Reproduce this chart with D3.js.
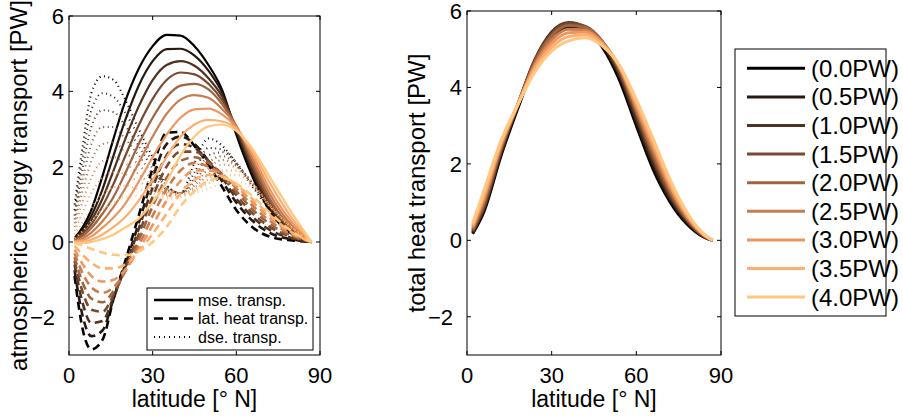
<!DOCTYPE html>
<html>
<head>
<meta charset="utf-8">
<script src="https://cdn.jsdelivr.net/npm/d3@7"></script>
<style>
  body { margin: 0; background: #fff; }
  text { font-family: "Liberation Sans", Arial, Helvetica, sans-serif; fill: #000; }
</style>
</head>
<body>
<script>
// latitude grids (deg N)
var latLeft  = [2, 5, 8, 12, 16, 20, 25, 30, 35, 40, 45, 50, 55, 60, 66, 72, 80, 87];
var latRight = [2, 6, 12, 18, 24, 30, 36, 42, 48, 54, 60, 66, 72, 78, 84, 87];

var forcingLabels = ["(0.0PW)", "(0.5PW)", "(1.0PW)", "(1.5PW)", "(2.0PW)",
                     "(2.5PW)", "(3.0PW)", "(3.5PW)", "(4.0PW)"];

// moist static energy transport (solid), one row per forcing
var mseTransp = [
  [0.1, 0.4, 0.85, 1.75, 2.75, 3.7, 4.6, 5.2, 5.5, 5.48, 5.2, 4.7, 4.02, 2.85, 1.7, 0.82, 0.2, 0],
  [0.08, 0.33, 0.7, 1.4, 2.3, 3.2, 4.15, 4.8, 5.12, 5.13, 4.95, 4.55, 3.95, 2.95, 1.8, 0.9, 0.24, 0],
  [0.07, 0.28, 0.58, 1.15, 1.9, 2.7, 3.6, 4.3, 4.7, 4.8, 4.68, 4.35, 3.85, 3.0, 1.88, 0.98, 0.27, 0],
  [0.06, 0.22, 0.47, 0.95, 1.55, 2.25, 3.1, 3.8, 4.3, 4.5, 4.45, 4.2, 3.75, 3.05, 1.98, 1.06, 0.31, 0],
  [0.05, 0.16, 0.37, 0.75, 1.2, 1.8, 2.6, 3.3, 3.85, 4.15, 4.2, 4.05, 3.65, 3.08, 2.08, 1.15, 0.36, 0],
  [0.03, 0.1, 0.25, 0.55, 0.93, 1.4, 2.1, 2.8, 3.4, 3.78, 3.9, 3.83, 3.52, 3.08, 2.18, 1.27, 0.43, 0],
  [0.02, 0.05, 0.15, 0.38, 0.65, 1.0, 1.6, 2.25, 2.85, 3.3, 3.52, 3.54, 3.38, 3.04, 2.28, 1.4, 0.52, 0],
  [0.0, 0.01, 0.06, 0.2, 0.4, 0.65, 1.1, 1.65, 2.25, 2.8, 3.12, 3.24, 3.2, 3.0, 2.38, 1.57, 0.63, 0],
  [-0.03, -0.03, 0.0, 0.08, 0.2, 0.38, 0.62, 1.05, 1.6, 2.3, 2.8, 3.07, 3.12, 2.95, 2.45, 1.72, 0.76, 0]
];

// latent heat transport (dashed)
var latTransp = [
  [-0.9, -2.35, -2.85, -2.6, -1.5, -0.55, 0.7, 1.95, 2.9, 2.92, 2.55, 2.05, 1.45, 0.85, 0.38, 0.14, 0.04, 0],
  [-0.75, -2.0, -2.5, -2.35, -1.5, -0.65, 0.5, 1.7, 2.6, 2.8, 2.6, 2.15, 1.6, 1.05, 0.55, 0.24, 0.07, 0],
  [-0.6, -1.65, -2.15, -2.1, -1.45, -0.7, 0.35, 1.45, 2.3, 2.6, 2.5, 2.15, 1.7, 1.15, 0.65, 0.32, 0.1, 0],
  [-0.5, -1.35, -1.8, -1.85, -1.4, -0.75, 0.2, 1.2, 2.0, 2.4, 2.4, 2.15, 1.75, 1.25, 0.75, 0.4, 0.13, 0],
  [-0.4, -1.1, -1.5, -1.6, -1.3, -0.8, 0.05, 0.95, 1.7, 2.15, 2.25, 2.1, 1.8, 1.35, 0.85, 0.48, 0.16, 0],
  [-0.3, -0.85, -1.2, -1.35, -1.2, -0.8, -0.1, 0.7, 1.4, 1.9, 2.1, 2.0, 1.8, 1.42, 0.95, 0.56, 0.19, 0],
  [-0.2, -0.6, -0.9, -1.05, -1.0, -0.75, -0.2, 0.45, 1.1, 1.62, 1.9, 1.9, 1.77, 1.48, 1.05, 0.64, 0.22, 0],
  [-0.1, -0.35, -0.55, -0.7, -0.7, -0.6, -0.25, 0.22, 0.75, 1.3, 1.65, 1.78, 1.74, 1.52, 1.13, 0.72, 0.25, 0],
  [-0.02, -0.1, -0.18, -0.28, -0.34, -0.35, -0.25, 0.0, 0.4, 0.95, 1.35, 1.62, 1.7, 1.55, 1.2, 0.78, 0.28, 0]
];

// dry static energy transport (dotted)
var dseTransp = [
  [1.0, 2.6, 3.95, 4.4, 4.3, 3.8, 3.0, 2.25, 1.5, 1.3, 2.1, 2.75, 2.55, 2.1, 1.45, 0.85, 0.25, 0],
  [0.85, 2.3, 3.5, 3.95, 3.85, 3.45, 2.8, 2.1, 1.5, 1.3, 1.85, 2.5, 2.45, 2.1, 1.5, 0.9, 0.28, 0],
  [0.7, 2.0, 3.05, 3.5, 3.45, 3.1, 2.55, 1.95, 1.45, 1.3, 1.7, 2.3, 2.38, 2.08, 1.52, 0.93, 0.3, 0],
  [0.6, 1.7, 2.6, 3.05, 3.05, 2.75, 2.3, 1.8, 1.4, 1.3, 1.6, 2.1, 2.28, 2.05, 1.54, 0.95, 0.32, 0],
  [0.5, 1.4, 2.15, 2.6, 2.65, 2.4, 2.05, 1.65, 1.35, 1.3, 1.5, 1.95, 2.18, 2.02, 1.55, 0.97, 0.34, 0],
  [0.4, 1.1, 1.7, 2.15, 2.25, 2.1, 1.8, 1.5, 1.3, 1.28, 1.45, 1.8, 2.05, 1.98, 1.55, 0.98, 0.36, 0],
  [0.3, 0.8, 1.3, 1.7, 1.85, 1.8, 1.6, 1.4, 1.25, 1.25, 1.4, 1.67, 1.9, 1.9, 1.53, 0.98, 0.37, 0],
  [0.2, 0.55, 0.9, 1.25, 1.45, 1.5, 1.4, 1.3, 1.2, 1.22, 1.35, 1.55, 1.72, 1.78, 1.5, 0.97, 0.38, 0],
  [0.1, 0.3, 0.55, 0.85, 1.05, 1.2, 1.22, 1.2, 1.15, 1.2, 1.3, 1.42, 1.55, 1.6, 1.42, 0.94, 0.38, 0]
];

// total heat transport (right panel)
var totalTransp = [
  [0.17, 0.75, 2.2, 3.45, 4.6, 5.3, 5.56, 5.5, 5.05, 4.2, 3.0, 1.85, 1.0, 0.42, 0.08, 0],
  [0.2, 0.8, 2.25, 3.5, 4.65, 5.35, 5.63, 5.55, 5.12, 4.3, 3.1, 1.95, 1.07, 0.46, 0.09, 0],
  [0.22, 0.85, 2.3, 3.55, 4.72, 5.45, 5.7, 5.58, 5.15, 4.35, 3.2, 2.05, 1.13, 0.5, 0.1, 0],
  [0.25, 0.9, 2.35, 3.55, 4.7, 5.4, 5.68, 5.6, 5.2, 4.42, 3.3, 2.15, 1.2, 0.53, 0.11, 0],
  [0.28, 0.97, 2.4, 3.55, 4.65, 5.35, 5.62, 5.57, 5.2, 4.48, 3.38, 2.25, 1.27, 0.56, 0.12, 0],
  [0.32, 1.05, 2.45, 3.55, 4.6, 5.25, 5.52, 5.5, 5.18, 4.52, 3.45, 2.35, 1.35, 0.6, 0.13, 0],
  [0.36, 1.12, 2.5, 3.55, 4.55, 5.15, 5.43, 5.45, 5.15, 4.55, 3.52, 2.45, 1.42, 0.64, 0.14, 0],
  [0.4, 1.2, 2.55, 3.55, 4.48, 5.05, 5.33, 5.38, 5.12, 4.57, 3.6, 2.55, 1.5, 0.68, 0.15, 0],
  [0.45, 1.3, 2.6, 3.55, 4.4, 4.95, 5.22, 5.3, 5.08, 4.58, 3.68, 2.65, 1.58, 0.72, 0.16, 0]
];

var xTicks = [0, 30, 60, 90];
var yTicks = [-2, 0, 2, 4, 6];

// matlab "copper" colormap
function copper(t){
    return d3.rgb(255 * Math.min(1, 1.25 * t), 255 * 0.7812 * t, 255 * 0.4975 * t).toString();
}

var W = 903, H = 416;
var svg = d3.select("body").append("svg")
    .attr("width", W).attr("height", H)
    .attr("viewBox", "0 0 " + W + " " + H);

function drawAxes(box, ylabel, labelX, id){
    var x = d3.scaleLinear().domain([0, 90]).range([box.x0, box.x1]);
    var y = d3.scaleLinear().domain([-3, 6]).range([box.y1, box.y0]);
    var g = svg.append("g");

    svg.append("clipPath").attr("id", id)
        .append("rect").attr("x", box.x0).attr("y", box.y0)
        .attr("width", box.x1 - box.x0).attr("height", box.y1 - box.y0);

    var tl = 4;
    // ticks (inward, all four sides)
    xTicks.forEach(function(t){
        g.append("line").attr("x1", x(t)).attr("x2", x(t)).attr("y1", box.y1).attr("y2", box.y1 - tl)
            .attr("stroke", "#000").attr("stroke-width", 1);
        g.append("line").attr("x1", x(t)).attr("x2", x(t)).attr("y1", box.y0).attr("y2", box.y0 + tl)
            .attr("stroke", "#000").attr("stroke-width", 1);
        g.append("text").attr("x", x(t)).attr("y", 383)
            .attr("text-anchor", "middle").attr("font-size", 22).text(t);
    });
    yTicks.forEach(function(t){
        g.append("line").attr("x1", box.x0).attr("x2", box.x0 + tl).attr("y1", y(t)).attr("y2", y(t))
            .attr("stroke", "#000").attr("stroke-width", 1);
        g.append("line").attr("x1", box.x1).attr("x2", box.x1 - tl).attr("y1", y(t)).attr("y2", y(t))
            .attr("stroke", "#000").attr("stroke-width", 1);
        g.append("text").attr("x", box.x0 - 5 - (t < 0 ? 9 : 0)).attr("y", y(t) + 8)
            .attr("text-anchor", "end").attr("font-size", 22)
            .text(t < 0 ? "\u2212" + Math.abs(t) : t);
    });

    g.append("text").attr("x", (box.x0 + box.x1) / 2).attr("y", 407)
        .attr("text-anchor", "middle").attr("font-size", 23).text("latitude [\u00b0 N]");
    g.append("text")
        .attr("transform", "translate(" + labelX + "," + ((box.y0 + box.y1) / 2) + ") rotate(-90)")
        .attr("text-anchor", "middle").attr("font-size", 24).text(ylabel);

    return {x: x, y: y, g: g};
}

function drawBox(box){
    svg.append("rect").attr("x", box.x0).attr("y", box.y0)
        .attr("width", box.x1 - box.x0).attr("height", box.y1 - box.y0)
        .attr("fill", "none").attr("stroke", "#000").attr("stroke-width", 1);
}

// ---------- left panel ----------
var boxL = {x0: 69, x1: 320, y0: 16, y1: 355};
var axL = drawAxes(boxL, "atmospheric energy transport [PW]", 27, "clipL");
var lineL = d3.line()
    .x(function(d, i){ return axL.x(latLeft[i]); })
    .y(function(d){ return axL.y(d); })
    .curve(d3.curveMonotoneX);

var plotL = svg.append("g").attr("clip-path", "url(#clipL)");
for (var i = 0; i < 9; i++){
    var c = copper(i / 8);
    plotL.append("path").attr("d", lineL(mseTransp[i]))
        .attr("fill", "none").attr("stroke", c).attr("stroke-width", 2.2);
    plotL.append("path").attr("d", lineL(latTransp[i]))
        .attr("fill", "none").attr("stroke", c).attr("stroke-width", 2.6)
        .attr("stroke-dasharray", "8,5");
    plotL.append("path").attr("d", lineL(dseTransp[i]))
        .attr("fill", "none").attr("stroke", c).attr("stroke-width", 2)
        .attr("stroke-dasharray", "1,3.5");
}
drawBox(boxL);

// left legend
var legL = svg.append("g");
legL.append("rect").attr("x", 147).attr("y", 288).attr("width", 166).attr("height", 62)
    .attr("fill", "#fff").attr("stroke", "#000").attr("stroke-width", 1);
var legLItems = [
    {label: "mse. transp.", dash: null, w: 2.6},
    {label: "lat. heat transp.", dash: "9,6", w: 2.6},
    {label: "dse. transp.", dash: "1,4", w: 2}
];
legLItems.forEach(function(d, k){
    var yy = 300 + k * 18.5;
    legL.append("line").attr("x1", 154).attr("x2", 193).attr("y1", yy).attr("y2", yy)
        .attr("stroke", "#000").attr("stroke-width", d.w)
        .attr("stroke-dasharray", d.dash);
    legL.append("text").attr("x", 198).attr("y", yy + 5.5).attr("font-size", 16).text(d.label);
});

// ---------- right panel ----------
var boxR = {x0: 467, x1: 721, y0: 11, y1: 355};
var axR = drawAxes(boxR, "total heat transport [PW]", 425, "clipR");
var lineR = d3.line()
    .x(function(d, i){ return axR.x(latRight[i]); })
    .y(function(d){ return axR.y(d); })
    .curve(d3.curveMonotoneX);

var plotR = svg.append("g").attr("clip-path", "url(#clipR)");
totalTransp.forEach(function(row, i){
    plotR.append("path").attr("d", lineR(row))
        .attr("fill", "none").attr("stroke", copper(i / 8)).attr("stroke-width", 3);
});
drawBox(boxR);

// right legend
var legR = svg.append("g");
legR.append("rect").attr("x", 735).attr("y", 49).attr("width", 151).attr("height", 267)
    .attr("fill", "#fff").attr("stroke", "#000").attr("stroke-width", 1);
forcingLabels.forEach(function(lab, i){
    var yy = 68.3 + i * 28.6;
    legR.append("line").attr("x1", 747).attr("x2", 805).attr("y1", yy).attr("y2", yy)
        .attr("stroke", copper(i / 8)).attr("stroke-width", 3);
    legR.append("text").attr("x", 811).attr("y", yy + 8.5).attr("font-size", 24).text(lab);
});
</script>
</body>
</html>
